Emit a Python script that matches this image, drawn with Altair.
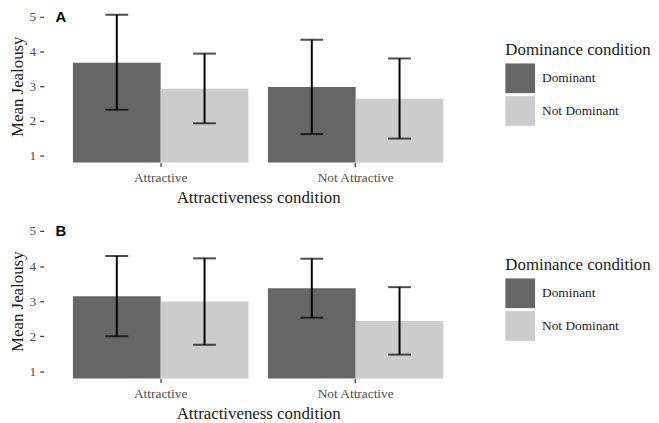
import altair as alt
import pandas as pd

attractiveness = ["Attractive", "Attractive", "Not Attractive", "Not Attractive"]
dominance = ["Dominant", "Not Dominant", "Dominant", "Not Dominant"]

a_mean = [3.68, 2.93, 2.98, 2.64]
a_lower = [2.32, 1.93, 1.62, 1.49]
a_upper = [5.06, 3.94, 4.34, 3.80]

b_mean = [3.14, 2.99, 3.37, 2.44]
b_lower = [2.00, 1.76, 2.53, 1.48]
b_upper = [4.29, 4.22, 4.21, 3.40]

panel_labels = ["A", "B"]
y_ticks = [1, 2, 3, 4, 5]
dom_colors = ["#666666", "#CCCCCC"]

SERIF = "Liberation Serif"


def panel(mean, lower, upper, label, height, domain_top, legend_y):
    df = pd.DataFrame({
        "Attract": attractiveness,
        "Dominance": dominance,
        "mean": mean,
        "lower": lower,
        "upper": upper,
    })
    xaxis = alt.Axis(title="Attractiveness condition", labelAngle=0,
                     domain=False, grid=False, tickSize=4, tickColor="#333333",
                     tickWidth=1.2,
                     labelFont=SERIF, labelFontSize=13.5, labelColor="#4D4D4D",
                     labelPadding=4,
                     titleFont=SERIF, titleFontSize=17, titleFontWeight="normal",
                     titleColor="#1a1a1a", titlePadding=6)
    xscale = alt.Scale(paddingInner=0.1, paddingOuter=0.15)
    x = alt.X("Attract:N", scale=xscale, axis=xaxis)
    xo = alt.XOffset("Dominance:N", scale=alt.Scale(paddingInner=0, paddingOuter=0))
    yscale = alt.Scale(domain=[0.8, domain_top], zero=False, nice=False)
    yaxis = alt.Axis(title="Mean Jealousy", values=y_ticks, domain=False, grid=False,
                     labelOverlap=False,
                     tickSize=4, tickColor="#333333", tickWidth=1.2,
                     labelFont=SERIF, labelFontSize=13.5, labelColor="#4D4D4D",
                     labelPadding=4,
                     titleFont=SERIF, titleFontSize=17, titleFontWeight="normal",
                     titleColor="#1a1a1a", titlePadding=3)
    base = alt.Chart(df)
    bars = base.mark_bar(clip=True).encode(
        x=x, xOffset=xo,
        y=alt.Y("mean:Q", scale=yscale, axis=yaxis),
        color=alt.Color("Dominance:N",
                        scale=alt.Scale(domain=["Dominant", "Not Dominant"], range=dom_colors),
                        legend=alt.Legend(title="Dominance condition", orient="none",
                                          legendX=466, legendY=legend_y,
                                          symbolType="square", symbolSize=900,
                                          symbolStrokeWidth=0, symbolOpacity=1,
                                          titleFont=SERIF, titleFontSize=17,
                                          titleFontWeight="normal", titleColor="#1a1a1a",
                                          titlePadding=5,
                                          labelFont=SERIF, labelFontSize=13.5,
                                          labelColor="#1a1a1a", labelOffset=7,
                                          rowPadding=3)),
    )
    rule = base.mark_rule(color="black", strokeWidth=2).encode(
        x=x, xOffset=xo, y=alt.Y("lower:Q", scale=yscale, axis=yaxis), y2="upper:Q")
    tick_lo = base.mark_tick(color="black", size=23, thickness=2, orient="horizontal").encode(
        x=x, xOffset=xo, y=alt.Y("lower:Q", scale=yscale, axis=yaxis))
    tick_hi = base.mark_tick(color="black", size=23, thickness=2, orient="horizontal").encode(
        x=x, xOffset=xo, y=alt.Y("upper:Q", scale=yscale, axis=yaxis))
    lab = alt.Chart(pd.DataFrame({"t": [label]})).mark_text(
        font="Liberation Sans", fontWeight="bold", fontSize=15,
        align="left", baseline="top", color="black").encode(
        x=alt.value(12), y=alt.value(0), text="t:N")
    return alt.layer(bars, rule, tick_lo, tick_hi, lab).properties(width=433, height=height)


chart = alt.vconcat(
    panel(a_mean, a_lower, a_upper, panel_labels[0], 154, 5.2, 32),
    panel(b_mean, b_lower, b_upper, panel_labels[1], 156, 5.2, 33),
    spacing=18,
).resolve_scale(color="independent").properties(
    padding=0, background="white").configure_view(strokeWidth=0)

chart.save("out.html", embed_options={"renderer": "svg", "actions": False})
